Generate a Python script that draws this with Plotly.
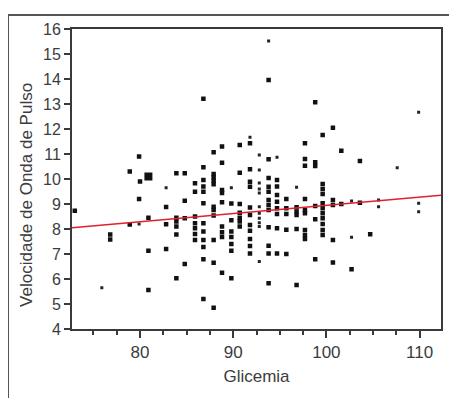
import plotly.graph_objects as go

# --- data ---
glicemia = [
    73.0,
    79.9, 79.9,
    78.9, 78.9,
    80.0,
    83.9, 83.9, 83.9, 83.9, 83.9, 83.9,
    84.8, 84.8, 84.8, 84.8,
    82.8, 82.8, 82.8,
    80.9, 80.9, 80.9,
    76.8, 76.8,
    85.9, 85.9, 85.9, 85.9, 85.9, 85.9, 85.9,
    86.8, 86.8, 86.8, 86.8, 86.8, 86.8, 86.8, 86.8, 86.8, 86.8, 86.8, 86.8,
    87.9, 87.9, 87.9, 87.9, 87.9, 87.9, 87.9, 87.9, 87.9, 87.9, 87.9,
    88.8, 88.8, 88.8, 88.8, 88.8, 88.8, 88.8, 88.8, 88.8,
    89.8, 89.8, 89.8, 89.8, 89.8, 89.8, 89.8,
    90.7, 90.7, 90.7, 90.7, 90.7, 90.7, 90.7,
    91.8, 91.8, 91.8, 91.8, 91.8, 91.8, 91.8, 91.8, 91.8, 91.8, 91.8,
    93.8, 93.8, 93.8, 93.8, 93.8, 93.8, 93.8, 93.8, 93.8, 93.8, 93.8, 93.8,
    94.7, 94.7, 94.7, 94.7, 94.7, 94.7, 94.7, 94.7,
    95.7, 95.7, 95.7, 95.7, 95.7,
    96.8, 96.8, 96.8, 96.8, 96.8,
    97.7, 97.7, 97.7, 97.7, 97.7, 97.7, 97.7, 97.7, 97.7,
    98.8, 98.8, 98.8, 98.8, 98.8, 98.8,
    99.6, 99.6, 99.6, 99.6, 99.6, 99.6, 99.6, 99.6, 99.6, 99.6, 99.6,
    100.7, 100.7, 100.7, 100.7, 100.7,
    101.6, 101.6,
    102.7,
    103.6, 103.6,
    104.7,
]
velocidade = [
    8.73,
    10.9, 9.2,
    10.3, 8.18,
    9.9,
    10.23, 8.45, 8.3, 8.1, 7.78, 6.03,
    10.23, 9.13, 8.43, 6.6,
    8.88, 8.19, 7.2,
    8.45, 7.13, 5.56,
    7.78, 7.58,
    9.83, 9.49, 8.5, 8.23, 8.03, 7.8, 7.56,
    13.21, 10.47, 9.96, 9.7, 9.49, 9.03, 8.23, 7.9, 7.56, 7.28, 6.79, 5.2,
    11.07, 10.2, 10.07, 9.93, 9.79, 8.89, 8.76, 8.54, 7.56, 6.65, 4.85,
    11.3, 10.65, 9.56, 9.44, 9.07, 8.1, 7.87, 7.68, 6.25,
    9.02, 8.35, 7.9, 7.68, 7.4, 7.13, 6.03,
    11.36, 10.25, 9.0, 8.65, 8.45, 8.3, 8.1,
    11.43, 10.39, 9.89, 9.69, 8.86, 8.56, 8.16, 7.93, 7.6, 7.32, 7.02,
    13.96, 10.79, 10.04, 9.69, 9.49, 9.16, 8.96, 8.76, 8.07, 7.33, 7.02, 5.83,
    9.96, 9.7, 9.36, 9.09, 8.83, 8.6, 8.03, 7.02,
    9.2, 8.83, 8.6, 7.97, 7.0,
    8.87, 8.7, 8.56, 8.0, 5.76,
    11.43, 10.8, 10.53, 9.2, 8.76, 8.63, 7.96, 7.76, 7.6,
    13.07, 10.67, 10.52, 8.92, 8.39, 6.79,
    11.76, 9.8, 9.6, 9.4, 9.03, 8.83, 8.63, 8.43, 8.2, 7.96, 7.76,
    12.05, 9.16, 8.96, 7.56, 6.66,
    11.13, 9.0,
    6.39,
    10.72, 9.05,
    7.79,
]

# faint / smaller points
glicemia_small = [75.9, 82.8, 79.9, 89.8, 91.8,
                  92.8, 92.8, 92.8, 92.8, 92.8, 92.8, 92.8, 92.8, 92.8, 92.8, 92.8,
                  93.8, 94.7, 96.8, 102.7, 102.7, 105.6, 105.6, 107.6,
                  109.9, 109.9, 109.9]
velocidade_small = [5.65, 9.65, 8.2, 9.65, 11.67,
                    10.96, 10.36, 9.84, 9.6, 9.44, 8.89, 8.63, 8.43, 8.25, 8.1, 6.7,
                    15.52, 10.87, 9.67, 9.12, 7.67, 9.16, 8.89, 10.45,
                    12.67, 9.03, 8.69]

# overlapping points drawn as one larger square
glicemia_big = [80.9]
velocidade_big = [10.1]

# fitted regression line
fit_x = [72.7, 112.3]
fit_y = [8.05, 9.35]

x_ticks = [80, 90, 100, 110]
y_ticks = [4, 5, 6, 7, 8, 9, 10, 11, 12, 13, 14, 15, 16]

FONT = "Liberation Sans, Arial, sans-serif"
AXC = "#3a3a3a"
TXT = "#3c3c3c"

fig = go.Figure()
fig.add_trace(go.Scatter(x=glicemia_small, y=velocidade_small, mode="markers",
                         marker=dict(symbol="square", size=3, color="#222222"),
                         showlegend=False, hoverinfo="skip"))
fig.add_trace(go.Scatter(x=glicemia, y=velocidade, mode="markers",
                         marker=dict(symbol="square", size=4.5, color="#111111"),
                         showlegend=False))
fig.add_trace(go.Scatter(x=glicemia_big, y=velocidade_big, mode="markers",
                         marker=dict(symbol="square", size=8, color="#111111"),
                         showlegend=False))
fig.add_trace(go.Scatter(x=fit_x, y=fit_y, mode="lines",
                         line=dict(color="#e0202a", width=1.6),
                         showlegend=False))

fig.update_layout(
    width=449, height=390,
    margin=dict(l=64, r=16, t=21, b=69),
    paper_bgcolor="white", plot_bgcolor="white",
    font=dict(family=FONT, size=16, color=TXT),
    xaxis=dict(
        range=[72.7, 112.3], tickvals=x_ticks, ticks="outside", ticklen=7,
        tickwidth=1.5, tickcolor=AXC, showgrid=False, zeroline=False,
        showline=True, linecolor=AXC, linewidth=2, mirror=True,
        minor=dict(dtick=2.5, tick0=80, ticks="outside", ticklen=4,
                   tickwidth=1.5, tickcolor=AXC, showgrid=False),
        tickfont=dict(size=17, color=TXT),
        title=dict(text="Glicemia", font=dict(size=17, color=TXT), standoff=9),
    ),
    yaxis=dict(
        range=[4, 16], tickvals=y_ticks, ticks="outside", ticklen=6,
        tickwidth=1.5, tickcolor=AXC, showgrid=False, zeroline=False,
        showline=True, linecolor=AXC, linewidth=2, mirror=True,
        tickfont=dict(size=16, color=TXT),
    ),
    annotations=[dict(text="Velocidade de Onda de Pulso", textangle=-90,
                      xref="paper", yref="paper", x=-0.122, y=0.447,
                      xanchor="center", yanchor="middle", showarrow=False,
                      font=dict(size=17, color=TXT))],
    shapes=[dict(type="rect", xref="paper", yref="paper",
                 x0=-0.1734, x1=1.06, y0=-0.25, y1=1.0467,
                 line=dict(color="#555555", width=2), fillcolor="rgba(0,0,0,0)",
                 layer="below")],
)

fig.write_html("out.html")
